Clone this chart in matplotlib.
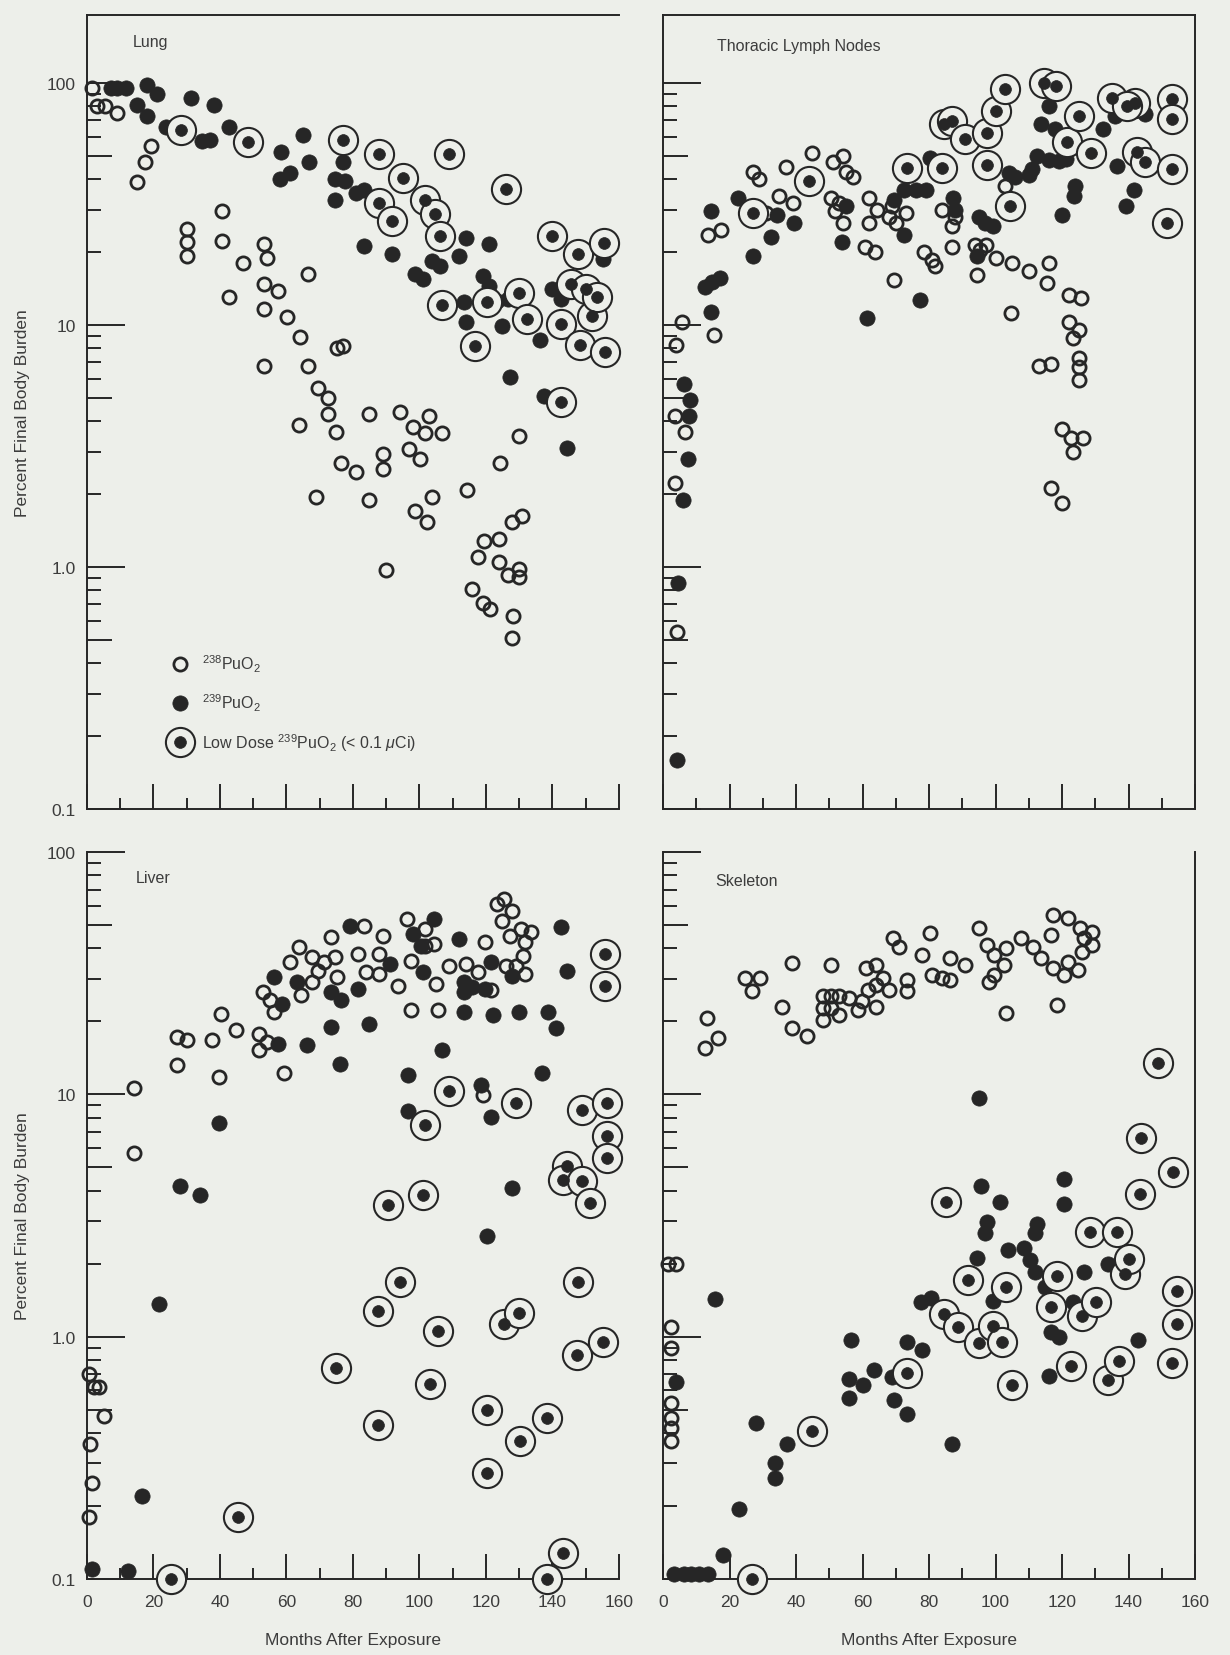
import matplotlib
matplotlib.use('Agg')
import matplotlib.pyplot as plt
from matplotlib.legend_handler import HandlerTuple

plt.rcParams['font.family'] = ['Liberation Sans', 'DejaVu Sans']
plt.rcParams['mathtext.fontset'] = 'custom'
plt.rcParams['mathtext.rm'] = 'Liberation Sans'
plt.rcParams['mathtext.it'] = 'Liberation Sans:italic'

BG = '#edefea'
INK = '#262626'
TXT = '#3c3c3c'

# (months after exposure, percent of final body burden)
lung_238 = [(1.5, 95), (3, 80), (5.3, 80), (9.1, 75), (19.3, 55), (17.4, 47), (14.9, 39),
            (30, 25), (30, 22), (30, 19.3), (40.6, 29.6), (40.6, 22.3), (42.8, 13), (46.9, 18.1),
            (53.3, 21.6), (54.2, 19), (53.3, 14.8), (57.4, 13.8), (53.3, 11.6), (60.2, 10.8),
            (64, 8.9), (66.5, 16.2), (75.2, 8), (77, 8.2), (53.3, 6.8), (66.5, 6.8), (69.5, 5.5),
            (72.6, 5.0), (63.7, 3.86), (72.6, 4.3), (74.8, 3.63), (84.7, 4.3), (94.2, 4.37),
            (103, 4.2), (98, 3.8), (101.8, 3.57), (106.9, 3.57), (129.8, 3.47), (76.4, 2.7),
            (80.9, 2.47), (88.9, 2.93), (88.9, 2.55), (96.8, 3.07), (100.2, 2.8), (124.3, 2.7),
            (69, 1.95), (84.7, 1.89), (98.7, 1.71), (102.2, 1.53), (103.7, 1.95), (114.3, 2.09),
            (127.9, 1.53), (130.7, 1.63), (119.4, 1.28), (124, 1.31), (117.5, 1.1), (124, 1.05),
            (126.6, 0.93), (129.8, 0.98), (130, 0.91), (89.8, 0.97), (115.8, 0.81), (119, 0.71),
            (121.1, 0.67), (128.1, 0.63), (127.9, 0.51)]
lung_239 = [(7.2, 95), (9.1, 95), (11.7, 95), (18, 98), (21.2, 90), (14.9, 81), (18, 73),
            (23.7, 66), (31.4, 87), (38.3, 81), (34.5, 57.5), (37.1, 58), (42.8, 66), (58.4, 52),
            (65, 61), (66.9, 47), (58, 40), (61.2, 42.6), (74.5, 40), (77.1, 47), (74.5, 33),
            (77.7, 39.4), (80.9, 35), (83.4, 36.3), (83.4, 21.2), (91.7, 19.6), (98.7, 16.2),
            (101.2, 15.5), (103.7, 18.4), (106.3, 17.6), (112, 19.3), (113.9, 22.8), (119, 16),
            (120.9, 21.6), (113.3, 12.4), (113.9, 10.3), (120.9, 14.5), (123.4, 12.6),
            (124.7, 9.9), (126.6, 12.8), (136.1, 8.7), (140, 14.1), (142.5, 12.8), (127.2, 6.1),
            (137.4, 5.1), (144.4, 3.1), (155.2, 18.7)]
lung_low = [(28.4, 64), (48.5, 57), (77.1, 58), (87.9, 51), (108.8, 51), (94.9, 40.6),
            (87.9, 32), (91.7, 27), (101.8, 33), (104.8, 28.7), (106.3, 23.3), (126, 36.6),
            (106.7, 12.1), (116.8, 8.2), (120.3, 12.4), (130, 13.6), (132.3, 10.6), (140, 23.3),
            (142.5, 10.1), (145.7, 14.8), (147.8, 19.6), (150.1, 14.1), (152, 10.9), (153.3, 13),
            (155.4, 21.9), (148.2, 8.3), (155.8, 7.7), (142.5, 4.8)]

lymph_238 = [(5.8, 10.3), (3.8, 8.3), (15.2, 9.1), (13.5, 23.6), (17.5, 24.8), (27, 43), (28.9, 40),
             (35, 34), (39, 32), (31, 29), (37, 45), (44.8, 51.5), (54, 50), (51, 47), (55, 43),
             (57, 41), (50.5, 33.5), (52.9, 32), (51.7, 29.6), (54, 26.5), (62, 33.5), (64.5, 30),
             (68, 28), (62, 26.5), (60.8, 21), (63.7, 20), (69, 31), (70, 26.5), (73, 29),
             (69.6, 15.4), (84, 30), (87.7, 28), (87, 25.6), (78.6, 20), (81, 18.6), (81.9, 17.6),
             (87, 21), (93.7, 21.4), (95.4, 20.5), (97.2, 21.4), (94.4, 16.1), (100, 19), (105, 18),
             (110, 16.7), (116, 18), (115.5, 14.9), (122.2, 13.3), (125.7, 12.9), (104.6, 11.2),
             (122.2, 10.3), (125.1, 9.5), (123.4, 8.8), (125.1, 7.3), (125.1, 6.7), (125.1, 5.9),
             (113, 6.8), (116.6, 6.9), (103, 37.5), (103, 30), (104, 32), (119.9, 3.7),
             (122.8, 3.4), (126.3, 3.4), (123.4, 3.0), (116.6, 2.13), (119.9, 1.83), (3.7, 4.2),
             (6.7, 3.6), (3.7, 2.23), (4.3, 0.54)]
lymph_239 = [(6.4, 5.7), (8.1, 4.9), (7.9, 4.2), (7.6, 2.8), (6.1, 1.9), (4.4, 0.86), (4.1, 0.16),
             (14.3, 11.3), (12.5, 14.4), (14.8, 15.1), (17.2, 15.6), (14.3, 29.5), (22.5, 33.5),
             (27.1, 19.2), (32.4, 23), (34.2, 28.6), (39.4, 26.4), (53.9, 22), (55, 31),
             (61.4, 10.7), (72.5, 23.6), (69.6, 33), (72.5, 36), (76, 36), (79, 36), (77.4, 12.7),
             (80.3, 49), (87.1, 33.5), (87.7, 30), (94.9, 28), (96.7, 26.5), (99.1, 25.6),
             (94.3, 19.2), (104, 42.6), (106, 40.7), (110, 41.5), (111, 44), (112.5, 50),
             (116, 48), (119, 47.5), (113.7, 67.6), (116, 80.6), (117.8, 64.5), (120, 28.6),
             (123.6, 34), (124, 37.6), (121.3, 48.5), (136.5, 45.4), (139.2, 31), (141.6, 36.3),
             (132.4, 64.4), (136, 73), (139.5, 78), (145, 74.5), (152.3, 71)]
lymph_low = [(27.1, 29), (44, 39.3), (73.3, 44.7), (83.9, 44.7), (84.4, 67.6), (86.8, 69.8),
             (90.9, 58.6), (97.3, 62.4), (100.2, 76.8), (103, 94.4), (97.3, 46), (104.3, 31),
             (114.6, 100), (118.1, 97), (121.6, 56.8), (125.1, 73.3), (128.6, 51.5), (135, 87),
             (142, 83), (142.6, 52), (145, 47), (153.2, 86), (153.2, 71), (153.2, 44),
             (151.5, 26.4), (139.5, 80.5)]

liver_238 = [(14.2, 10.6), (14, 5.7), (27.2, 17.3), (30.1, 16.7), (37.7, 16.7), (40.3, 21.5),
             (44.7, 18.4), (27.2, 13.2), (39.6, 11.8), (51.7, 17.8), (51.7, 15.2), (54.2, 16.4),
             (59.3, 12.2), (53, 26.4), (54.9, 24.5), (56.1, 21.9), (61.2, 35), (63.7, 40.5),
             (64.4, 25.6), (67.6, 36.8), (69.5, 32.4), (71.4, 35), (74.5, 36.8), (75.2, 30.5),
             (67.6, 29), (73.3, 44.5), (83.4, 49.7), (81.5, 38), (84, 32), (87.9, 31.4),
             (87.9, 38), (89.1, 45), (93.6, 28.1), (96.1, 52.8), (97.4, 35.6), (101.8, 48),
             (101.8, 41), (104.4, 41.7), (105, 28.6), (97.4, 22.2), (105.7, 22.2), (108.8, 34),
             (113.9, 34.5), (117.7, 32), (119.6, 42.4), (121.5, 26.9), (123.4, 61), (125.3, 63.8),
             (127.9, 57.3), (124.7, 52), (127.2, 45.2), (130.4, 48), (133.6, 46.6), (131.7, 42.4),
             (131, 37.4), (129.1, 34), (131.7, 31.4), (126, 34), (119, 9.9), (0.5, 0.70),
             (2, 0.62), (3.5, 0.62), (5, 0.47), (1, 0.36), (1.5, 0.25), (0.5, 0.18)]
liver_239 = [(56.1, 30.5), (63.1, 29), (58.7, 23.7), (57.4, 16.2), (66.3, 16), (73.3, 19),
             (76.2, 13.4), (73.3, 26.4), (76.4, 24.5), (79, 49.7), (81.5, 27.3), (84.7, 19.6),
             (91, 34.5), (98, 46), (100.6, 41), (104.4, 52.8), (101.2, 32), (96.5, 12),
             (96.5, 8.5), (106.9, 15.2), (112, 43.7), (113.3, 29), (113.3, 26.4), (113.3, 21.9),
             (115.8, 27.7), (119.6, 27.3), (118.4, 10.9), (121.5, 8.1), (121.5, 35), (127.9, 30.9),
             (122.2, 21.2), (129.8, 21.9), (138.7, 21.9), (141.2, 18.7), (142.5, 48.9),
             (144.4, 32.4), (136.8, 12.2), (127.9, 4.1), (120.3, 2.6), (39.6, 7.6), (27.9, 4.2),
             (33.9, 3.86), (21.8, 1.37), (16.5, 0.22), (1.5, 0.11), (12.3, 0.108)]
liver_low = [(155.8, 38), (155.8, 28.1), (108.8, 10.3), (129.1, 9.2), (101.6, 7.5), (148.8, 8.6),
             (156.4, 9.2), (156.4, 6.7), (156.4, 5.46), (144.4, 5.05), (143.1, 4.45), (148.8, 4.4),
             (151.4, 3.56), (90.4, 3.5), (101.2, 3.86), (94.2, 1.68), (87.5, 1.28), (105.7, 1.06),
             (125.3, 1.13), (129.8, 1.25), (147.8, 1.68), (147.3, 0.84), (155.2, 0.95),
             (74.8, 0.74), (103.1, 0.64), (120.3, 0.5), (87.5, 0.43), (138.4, 0.46), (130.2, 0.37),
             (120.3, 0.275), (45.3, 0.18), (143.1, 0.128), (25.4, 0.1), (138.3, 0.1)]

skel_238 = [(13.3, 20.7), (12.5, 15.6), (16.6, 17.1), (24.8, 30.1), (29.2, 30.1), (26.9, 26.6),
            (35.9, 23), (38.8, 18.8), (43.3, 17.4), (38.8, 34.8), (50.5, 34.2), (48, 25.4),
            (50.5, 25.4), (52.9, 25.4), (55.8, 25), (48, 22.7), (50.5, 22.7), (52.9, 21.3),
            (48, 20.3), (58.7, 22.3), (61.6, 27), (61, 33.2), (64, 34.2), (64, 28.3), (66.3, 30.1),
            (68, 27), (69.2, 44), (71, 40.7), (73.3, 29.7), (73.3, 26.6), (59.9, 24.2), (64, 23),
            (80.4, 46.1), (78, 37.6), (80.9, 31.1), (83.9, 30.1), (86.2, 29.7), (86.2, 36.5),
            (90.9, 34.2), (95, 48.4), (97.3, 41.3), (99.6, 37.6), (103.2, 40.1), (102.6, 34.2),
            (99.6, 31.1), (97.9, 29.2), (103.2, 21.7), (107.8, 44), (111.3, 40.7), (113.7, 36.5),
            (117.2, 33.2), (120.7, 31.1), (121.8, 35.3), (124.8, 32.7), (126, 38.8), (126.6, 44),
            (128.9, 46.9), (125.4, 48.4), (121.9, 53.2), (117.2, 55), (116.6, 45.5), (118.4, 23.4),
            (128.9, 41.3), (1.5, 2.0), (4, 2.0), (2.5, 1.1), (2.5, 0.9), (2.5, 0.53), (2.5, 0.46),
            (2.5, 0.42), (2.5, 0.37)]
skel_239 = [(95, 9.7), (95.6, 4.2), (101.4, 3.6), (97.3, 2.97), (112.5, 2.92), (120.7, 4.48),
            (120.7, 3.53), (96.8, 2.67), (112, 2.67), (94.5, 2.11), (103.9, 2.28), (108.5, 2.32),
            (110.3, 2.08), (112, 1.84), (115, 1.6), (99.2, 1.41), (126.7, 1.84), (123.2, 1.39),
            (126.1, 1.2), (116.7, 1.05), (119, 1.0), (116, 0.69), (133.7, 2.0), (139, 2.1),
            (143, 0.97), (77.5, 1.39), (80.5, 1.45), (73.5, 0.95), (78, 0.88), (56.5, 0.97),
            (55.9, 0.67), (60, 0.63), (55.9, 0.56), (63.5, 0.73), (68.8, 0.68), (69.4, 0.55),
            (73.5, 0.48), (86.9, 0.36), (28, 0.44), (37.4, 0.36), (33.7, 0.3), (33.7, 0.26),
            (22.8, 0.195), (17.9, 0.126), (3.3, 0.105), (6.2, 0.105), (8.5, 0.105), (10.9, 0.105),
            (13.6, 0.105), (15.6, 1.43), (3.9, 0.65)]
skel_low = [(148.8, 13.5), (143.9, 6.6), (153.5, 4.77), (143.5, 3.88), (85, 3.6), (91.6, 1.72),
            (103.3, 1.6), (84.6, 1.24), (88.7, 1.1), (95.1, 0.94), (99.2, 1.11), (102.1, 0.95),
            (105, 0.63), (118.5, 1.78), (116.7, 1.32), (126.1, 1.22), (130.2, 1.39), (122.6, 0.76),
            (133.7, 0.66), (137.2, 0.79), (128.4, 2.7), (136.6, 2.7), (139, 1.81), (140.1, 2.1),
            (154.7, 1.55), (154.7, 1.13), (153, 0.78), (73.5, 0.71), (44.8, 0.41), (26.7, 0.1)]

W, H = 1230, 1656
fig = plt.figure(figsize=(W / 100, H / 100), dpi=100, facecolor=BG)


def add_ax(x0, x1, ytop, ybot):
    return fig.add_axes([x0 / W, 1 - ybot / H, (x1 - x0) / W, (ybot - ytop) / H])


def draw_panel(ax, o, f, lo, ylim, spines, xlab, ylab):
    ax.set_facecolor(BG)
    ax.set_yscale('log')
    ax.set_xlim(0, 160)
    ax.set_ylim(*ylim)
    for s in ['left', 'right', 'top', 'bottom']:
        ax.spines[s].set_visible(s in spines)
        ax.spines[s].set_color(INK)
        ax.spines[s].set_linewidth(1.4)

    xo, yo = zip(*o)
    xf, yf = zip(*f)
    xl, yl = zip(*lo)
    h1, = ax.plot(xo, yo, ls='none', marker='o', ms=9.5, mfc='none', mec=INK, mew=2.0,
                  clip_on=False, zorder=3)
    h2, = ax.plot(xf, yf, ls='none', marker='o', ms=11, mfc=INK, mec=INK, mew=0.5,
                  clip_on=False, zorder=4)
    h3, = ax.plot(xl, yl, ls='none', marker='o', ms=21, mfc=BG, mec=INK, mew=1.5,
                  clip_on=False, zorder=5)
    h4, = ax.plot(xl, yl, ls='none', marker='o', ms=8.5, mfc=INK, mec=INK, mew=0.5,
                  clip_on=False, zorder=6)

    ax.set_xticks(range(0, 161, 20))
    ax.set_xticks(range(10, 160, 20), minor=True)
    ax.tick_params(axis='x', which='major', direction='in', length=18, width=1.4, color=INK,
                   labelsize=12.5, labelcolor=TXT, pad=11, labelbottom=xlab)
    ax.tick_params(axis='x', which='minor', direction='in', length=8, width=1.4, color=INK)

    ymaj = [0.1, 0.5, 1, 5, 10, 50, 100]
    ax.set_yticks(ymaj)
    ax.set_yticklabels(['0.1', '', '1.0', '', '10', '', '100'])
    ax.set_yticks([m * 10.0 ** e for e in (-1, 0, 1) for m in (2, 3, 4, 6, 7, 8, 9)], minor=True)
    ax.tick_params(axis='y', which='major', direction='in', length=27, width=1.4, color=INK,
                   labelsize=12.5, labelcolor=TXT, pad=8, labelleft=ylab)
    ax.tick_params(axis='y', which='minor', direction='in', length=10, width=1.4, color=INK)
    ax.yaxis.set_minor_formatter(plt.NullFormatter())
    for t, v in zip(ax.yaxis.get_major_ticks(), ymaj):
        if v in (0.5, 5, 50):
            t.tick1line.set_markersize(18)
    return h1, h2, h3, h4


top_lim = (0.1, 10 ** (2 + 68 / 242))
ax1 = add_ax(87, 619, 16, 810)
ax2 = add_ax(663, 1195, 16, 810)
ax3 = add_ax(87, 619, 853, 1580)
ax4 = add_ax(663, 1195, 853, 1580)

hs = draw_panel(ax1, lung_238, lung_239, lung_low, top_lim, ['left', 'top', 'bottom'], False, True)
draw_panel(ax2, lymph_238, lymph_239, lymph_low, top_lim, ['left', 'top', 'right', 'bottom'], False, False)
draw_panel(ax3, liver_238, liver_239, liver_low, (0.1, 100), ['left', 'bottom'], True, True)
draw_panel(ax4, skel_238, skel_239, skel_low, (0.1, 100), ['left', 'right', 'bottom'], True, False)

leg = ax1.legend([hs[0], hs[1], (hs[2], hs[3])],
                 [r'$^{238}$PuO$_2$', r'$^{239}$PuO$_2$', r'Low Dose $^{239}$PuO$_2$ (< 0.1 $\mu$Ci)'],
                 handler_map={tuple: HandlerTuple(ndivide=1)}, loc='upper left',
                 bbox_to_anchor=(0.1525, 0.197), frameon=False, fontsize=11.5, labelcolor=TXT,
                 handlelength=1.5, handletextpad=0.6, labelspacing=1.12, borderpad=0,
                 borderaxespad=0, numpoints=1)


def ftext(x, y, s, **kw):
    fig.text(x / W, 1 - y / H, s, color=TXT, **kw)


ftext(133, 43, 'Lung', fontsize=11.5, va='center')
ftext(717, 47, 'Thoracic Lymph Nodes', fontsize=11.5, va='center')
ftext(136, 879, 'Liver', fontsize=11.5, va='center')
ftext(715, 882, 'Skeleton', fontsize=11.5, va='center')
ftext(23, 413, 'Percent Final Body Burden', fontsize=12.5, rotation=90, ha='center', va='center')
ftext(23, 1216, 'Percent Final Body Burden', fontsize=12.5, rotation=90, ha='center', va='center')
ftext(353, 1641, 'Months After Exposure', fontsize=12.5, ha='center', va='center')
ftext(929, 1641, 'Months After Exposure', fontsize=12.5, ha='center', va='center')

fig.savefig('out.png', dpi=100, facecolor=BG)
